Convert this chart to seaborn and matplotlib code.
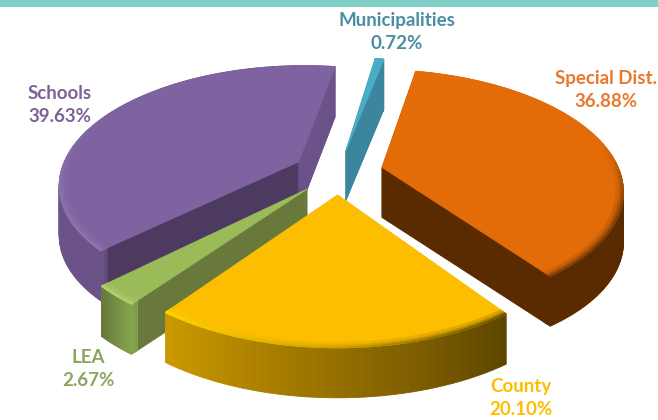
import numpy as np
import matplotlib
matplotlib.use("Agg")
import matplotlib.pyplot as plt
from matplotlib.colors import to_rgb
from matplotlib.patches import Rectangle
from matplotlib.transforms import Transform
import seaborn as sns

# ---- data (clockwise from the start angle)
names = ["Special Dist.", "County", "LEA", "Schools", "Municipalities"]
values = [36.88, 20.10, 2.67, 39.63, 0.72]
top_colors = ["#E36C09", "#FDBD00", "#9BBB59", "#7F63A1", "#4BACC6"]
wall_start = ["#5A2A00", "#6B5000", "#68793B", "#4C3A60", "#3B869E"]
wall_end = ["#5A2A00", "#6B5000", "#68793B", "#6B5389", "#3B869E"]
rim_start = ["#5A2A00", "#5F4700", "#86A44E", "#6B5389", "#3B869E"]
rim_end = ["#5A2A00", "#CC9900", "#68793B", "#6B5389", "#3B869E"]
edge_stops = [["#E36C09", "#E36C09", "#E36C09", "#6E3504", "#6E3504"],
              ["#4F3C00", "#C49A00", "#FFDD00"],
              ["#B5D078", "#B5D078"],
              ["#9079B0", "#8A72AC", "#7F63A1", "#7F63A1", "#7F63A1"],
              ["#4BACC6", "#4BACC6"]]
label_colors = ["#E8782C", "#FDBD00", "#8AA65C", "#7C6299", "#4A8EA6"]
label_xy = [(606, 90), (521, 398), (88, 369), (60, 105), (397, 32)]
draw_order = [4, 0, 3, 2, 1]   # back to front

START = 78.5
EXPLODE = 0.19
CX, CY, R = 338.0, 172.0, 238.0
PERSP, SQUASH = 0.177, 0.49
DEPTH = 50.0
STEP = 1.0
N_SUB = 40


class Perspective(Transform):
    input_dims = 2
    output_dims = 2
    is_separable = False
    has_inverse = False

    def __init__(self, drop=0.0):
        super().__init__()
        self.drop = drop

    def transform_non_affine(self, xy):
        xy = np.asarray(xy, dtype=float)
        w = 1 + PERSP * xy[:, 1]
        return np.column_stack([CX + R * xy[:, 0] / w,
                                CY - R * SQUASH * xy[:, 1] / w + self.drop])


sns.set_theme(style="white")
plt.rcParams["font.family"] = ["Lato", "DejaVu Sans"]
fig = plt.figure(figsize=(6.58, 4.20), dpi=100)
ax = fig.add_axes([0, 0, 1, 1])

fracs = np.array(values) / sum(values)
starts = START - 360 * np.concatenate([[0], np.cumsum(fracs)[:-1]])


def piece(i, parts, colors, drop, z, radius=1.0, width=None):
    mid = np.deg2rad(starts[i] - 180 * fracs[i])
    center = (EXPLODE * np.cos(mid), EXPLODE * np.sin(mid))
    wp = {"linewidth": 0.6}
    if width is not None:
        wp["width"] = width
    wedges, _ = ax.pie(parts, startangle=starts[i], counterclock=False, center=center,
                       radius=radius, colors=colors, normalize=False, wedgeprops=wp)
    tr = Perspective(drop) + ax.transData
    for w in wedges:
        w.set_transform(tr)
        w.set_edgecolor(w.get_facecolor())
        w.set_zorder(z)


for rank, i in enumerate(draw_order):
    sub = np.full(N_SUB, fracs[i] / N_SUB)
    half = np.full(2, fracs[i] / 2)
    walls = [wall_start[i], wall_end[i]]
    rim = sns.blend_palette([rim_start[i], rim_end[i]], N_SUB)
    base = (rank + 1) * 1000
    drops = np.arange(DEPTH, 0, -STEP)
    for k, d in enumerate(drops):
        piece(i, half, walls, d, base + k, radius=0.985)
        piece(i, sub, rim, d, base + k + 0.5, width=0.03)
    z = base + len(drops) + 1
    piece(i, [fracs[i]], [top_colors[i]], 0.0, z)
    edge = np.array(sns.blend_palette(edge_stops[i], N_SUB))
    top = np.array(to_rgb(top_colors[i]))
    for j, t in enumerate([0.85, 0.5, 0.2]):
        cols = [tuple(top + (c[:3] - top) * t) for c in edge]
        piece(i, sub, cols, 0.0, z + 1 + j, radius=1.0 - j * 0.01, width=0.01)

for name, val, col, (x, y) in zip(names, values, label_colors, label_xy):
    ax.text(x, y, f"{name}\n{val:.2f}%", color=col, ha="center", va="center",
            fontsize=13.5, fontweight="bold", linespacing=1.4, zorder=20000)

ax.add_patch(Rectangle((0, 0), 658, 7, facecolor="#80D0C8", edgecolor="none", zorder=20000))
ax.set_xlim(0, 658)
ax.set_ylim(420, 0)
ax.set_aspect("auto")
ax.axis("off")
fig.savefig("out.png", dpi=100, facecolor="white")
